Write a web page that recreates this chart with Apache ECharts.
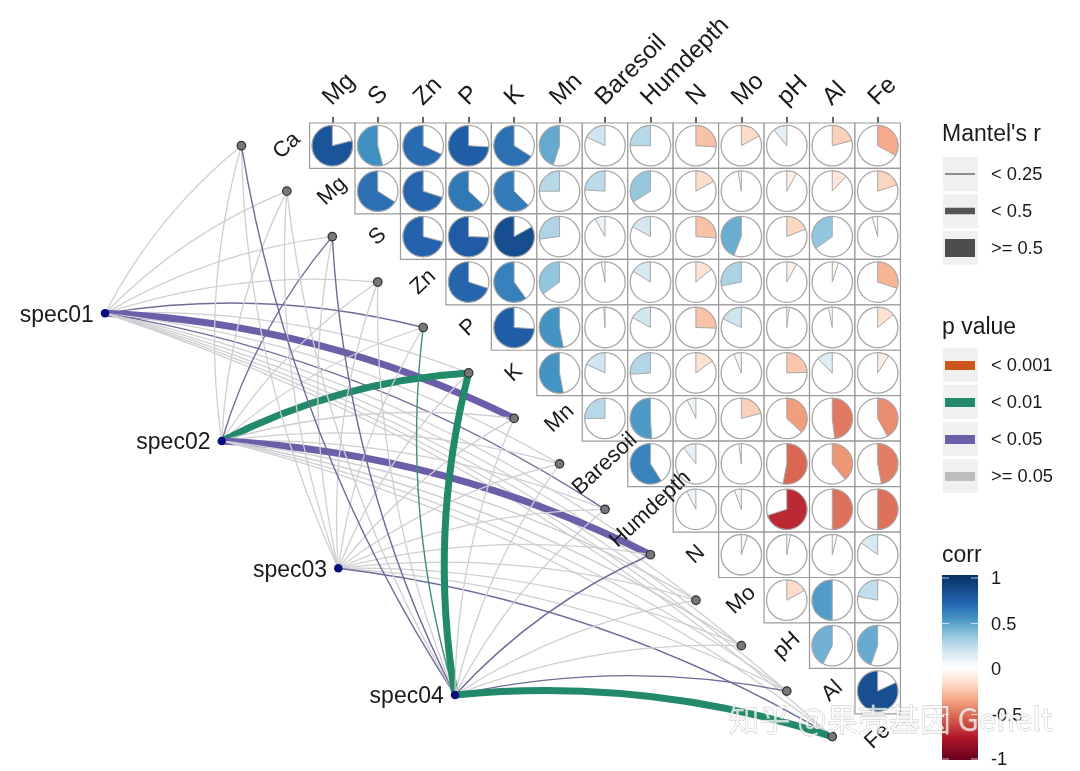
<!DOCTYPE html>
<html>
<head>
<meta charset="utf-8">
<style>html,body{margin:0;padding:0;background:#fff}#chart{width:1080px;height:771px}</style>
<script src="https://cdn.jsdelivr.net/npm/echarts@6/dist/echarts.min.js"></script>
</head>
<body>
<div id="chart"></div>
<script>
// ---------- data ----------
const envCols = ['Mg','S','Zn','P','K','Mn','Baresoil','Humdepth','N','Mo','pH','Al','Fe'];
const envRows = ['Ca','Mg','S','Zn','P','K','Mn','Baresoil','Humdepth','N','Mo','pH','Al'];
// correlation rows: each row starts on the diagonal
const corrCa = [0.79,0.54,0.68,0.74,0.66,0.45,0.18,0.25,-0.26,-0.17,0.11,-0.21,-0.33];
const corrMg = [0.66,0.70,0.63,0.625,0.25,0.24,0.34,-0.17,0.025,-0.08,-0.12,-0.20];
const corrS = [0.71,0.745,0.83,0.27,0.08,0.17,-0.26,0.44,-0.19,0.35,0.045];
const corrZn = [0.70,0.60,0.35,0.03,0.16,-0.14,0.28,-0.08,-0.05,-0.30];
const corrP = [0.74,0.53,0.01,0.17,-0.255,0.18,-0.02,0.03,-0.14];
const corrK = [0.53,0.18,0.26,-0.15,0.06,-0.245,0.125,-0.09];
const corrMn = [0.25,0.51,0.07,-0.21,-0.37,-0.48,-0.42];
const corrBaresoil = [0.59,0.105,0.02,-0.53,-0.39,-0.47];
const corrHumdepth = [0.075,0.055,-0.70,-0.50,-0.50];
const corrN = [-0.05,-0.03,-0.04,0.15];
const corrMo = [-0.17,0.50,0.22];
const corrPH = [0.425,0.445];
const corrAl = [0.82];
const corrRows = [corrCa,corrMg,corrS,corrZn,corrP,corrK,corrMn,corrBaresoil,corrHumdepth,corrN,corrMo,corrPH,corrAl];

const specNames = ['spec01','spec02','spec03','spec04'];
const specCol = [-5.00,-2.433,0.132,2.70];
const specRow = [3.688,6.497,9.298,12.086];
// targets, in order: Ca Mg S Zn P K Mn Baresoil Humdepth N Mo pH Al Fe
const nodeNames = ['Ca','Mg','S','Zn','P','K','Mn','Baresoil','Humdepth','N','Mo','pH','Al','Fe'];
// p class: 0 >=0.05, 1 <0.05, 2 <0.01, 3 <0.001
const pSpec01 = [0,0,0,0,1,0,1,0,1,0,0,0,0,0];
const pSpec02 = [0,0,1,0,0,2,0,0,0,1,0,0,0,0];
const pSpec03 = [0,0,0,0,0,0,0,0,0,0,0,0,0,1];
const pSpec04 = [1,0,1,0,2,2,0,0,0,1,0,0,1,2];
// r class: 0 <0.25, 1 <0.5
const rSpec01 = [0,0,0,0,0,0,1,0,0,0,0,0,0,0];
const rSpec02 = [0,0,0,0,0,1,0,0,0,1,0,0,0,0];
const rSpec03 = [0,0,0,0,0,0,0,0,0,0,0,0,0,0];
const rSpec04 = [0,0,0,0,0,1,0,0,0,0,0,0,0,1];
const pSpec = [pSpec01,pSpec02,pSpec03,pSpec04];
const rSpec = [rSpec01,rSpec02,rSpec03,rSpec04];

const rLegend = ['< 0.25','< 0.5','>= 0.5'];
const pLegend = ['< 0.001','< 0.01','< 0.05','>= 0.05'];
const corrTicks = ['1','0.5','0','-0.5','-1'];

// ---------- scales / style ----------
const corrStops = [-1,-0.75,-0.55,-0.35,-0.18,0,0.18,0.35,0.53,0.72,1];
const corrColors = ['#67001f','#b2182b','#d6604d','#f4a582','#fddbc7','#ffffff','#d1e5f0','#92c5de','#4393c3','#2160ac','#053061'];
function corrColor(v){
  for(let i=0;i<corrStops.length-1;i++){
    if(v<=corrStops[i+1]){
      return echarts.color.lerp((v-corrStops[i])/(corrStops[i+1]-corrStops[i]),[corrColors[i],corrColors[i+1]]);
    }
  }
  return corrColors[corrColors.length-1];
}
const pColor = ['#cfcfd3','#6a5fa8','#22896a','#cc5519'];
const pColorThin = ['#cfcfd3','#6f6c98','#3f9078','#cc5519'];
const FONT = '"Liberation Sans", Arial, sans-serif';
const TXT = '#1a1a1a';
const CELL = 45.45, X0 = 332.3, Y0 = 145.7;

const cells = [];
corrRows.forEach((row,i)=>row.forEach((v,k)=>cells.push([i+k,i,v])));

const links = [];
specNames.forEach((s,si)=>{
  nodeNames.forEach((n,ni)=>{
    const p = pSpec[si][ni], r = rSpec[si][ni];
    links.push({
      coords:[[specCol[si],specRow[si]],[ni-2,ni]],
      lineStyle:{
        color:r? pColor[p]:pColorThin[p],
        width:r?7:(p?1.4:1.3),
        curveness:0.105,opacity:1,cap:'butt'
      }
    });
  });
});

// ---------- legends ----------
const g = [];
function text(x,y,s,size,extra){
  g.push(Object.assign({type:'text',left:x,top:y-size/2+1.5,silent:true,z:20,
    style:{text:s,fontFamily:FONT,fontSize:size,fill:TXT,textVerticalAlign:'top'}},extra||{}));
}
function rect(x,y,w,h,fill,z){
  g.push({type:'rect',silent:true,z:z||19,shape:{x,y,width:w,height:h},style:{fill}});
}
text(942,133,"Mantel's r",23);
[[157,1.8,'#808080'],[194,6.5,'#555555'],[231,18,'#4d4d4d']].forEach((d,i)=>{
  rect(943,d[0],35,34,'#f0f0f0');
  rect(945,d[0]+17-d[1]/2,30,d[1],d[2],20);
  text(991,d[0]+17,rLegend[i],18.3);
});
text(942,326,'p value',23);
[348,385,422,459].forEach((y,i)=>{
  rect(943,y,35,34,'#f0f0f0');
  rect(945,y+13,30,9,pColor[3-i]==='#cfcfd3'?'#bdbdbd':pColor[3-i],20);
  text(991,y+17,pLegend[i],18.3);
});
text(942,554,'corr',23);
g.push({type:'rect',silent:true,z:19,shape:{x:942,y:575,width:36,height:185},
  style:{fill:new echarts.graphic.LinearGradient(0,1,0,0,
    corrStops.map((s,i)=>({offset:(s+1)/2,color:corrColors[i]})))}});
[578,623.5,669,714.5,759].forEach((y,i)=>{
  rect(942,y-0.5,7,1,'rgba(255,255,255,0.7)',20);
  rect(971,y-0.5,7,1,'rgba(255,255,255,0.7)',20);
  text(991,y,corrTicks[i],18.3);
});
// watermark
g.push({type:'text',left:728,top:703,silent:true,z:40,
  style:{text:'知乎 @果壳基因 Genelt',fontFamily:'"Noto Sans CJK SC"',fontSize:31,
    fill:'rgba(255,255,255,0.72)',stroke:'rgba(150,150,150,0.55)',lineWidth:0.8}});

// ---------- chart ----------
const chart = echarts.init(document.getElementById('chart'),null,{renderer:'canvas'});
chart.setOption({
  animation:false,
  backgroundColor:'#ffffff',
  grid:[
    {left:X0-CELL/2,top:Y0-CELL/2,width:CELL*13,height:CELL*13},
    {left:0,top:0,width:1080,height:771}
  ],
  xAxis:[
    {type:'category',gridIndex:0,position:'top',data:envCols,
     axisLine:{show:false},
     axisTick:{show:true,alignWithLabel:true,length:6,lineStyle:{color:'#333',width:1.5}},
     axisLabel:{interval:0,rotate:-45,margin:9,verticalAlign:'bottom',padding:[0,0,0,5],fontSize:24.5,fontFamily:FONT,color:TXT,hideOverlap:false},
     splitLine:{show:false}},
    {type:'value',gridIndex:1,show:false,min:(0-X0)/CELL,max:(1080-X0)/CELL,splitLine:{show:false}}
  ],
  yAxis:[
    {type:'category',gridIndex:0,inverse:true,data:envRows,show:false},
    {type:'value',gridIndex:1,show:false,inverse:true,min:(0-Y0)/CELL,max:(771-Y0)/CELL,splitLine:{show:false}}
  ],
  graphic:g,
  series:[
    {type:'custom',coordinateSystem:'cartesian2d',xAxisIndex:0,yAxisIndex:0,silent:true,z:2,
     data:cells,encode:{x:0,y:1},clip:false,
     renderItem(params,api){
       const v=api.value(2);
       const c=api.coord([api.value(0),api.value(1)]);
       const s=api.size([1,1]);
       const R=s[0]*0.445;
       const start=-Math.PI/2, sweep=Math.abs(v)*2*Math.PI;
       const fill=corrColor(v);
       return {type:'group',children:[
         {type:'rect',shape:{x:c[0]-s[0]/2,y:c[1]-s[1]/2,width:s[0],height:s[1]},
          style:{fill:'#ffffff',stroke:'#9a9a9a',lineWidth:1.2}},
         {type:'circle',shape:{cx:c[0],cy:c[1],r:R},
          style:{fill:'#ffffff',stroke:'#a8a8a8',lineWidth:1.3}},
         {type:'sector',shape:{cx:c[0],cy:c[1],r:R,r0:0,startAngle:start,
            endAngle:v>0?start-sweep:start+sweep,clockwise:v<0},
          style:{fill:fill,stroke:'#a8a8a8',lineWidth:1}}
       ]};
     }},
    {type:'lines',coordinateSystem:'cartesian2d',xAxisIndex:1,yAxisIndex:1,silent:true,z:3,
     lineStyle:{curveness:0.105},data:links},
    {type:'scatter',xAxisIndex:1,yAxisIndex:1,silent:true,z:5,symbolSize:8.5,
     itemStyle:{color:'#777777',borderColor:'#2e2e2e',borderWidth:1.2,opacity:1},
     data:nodeNames.map((n,i)=>[i-2,i])},
    {type:'scatter',xAxisIndex:1,yAxisIndex:1,silent:true,z:5,symbolSize:8.5,
     itemStyle:{color:'#0b0b80',opacity:1},
     label:{show:true,position:'left',distance:7,offset:[0,2],fontSize:23,fontFamily:FONT,color:TXT,
       formatter:p=>p.data[2]},
     data:specNames.map((n,i)=>[specCol[i],specRow[i],n])},
    {type:'scatter',xAxisIndex:1,yAxisIndex:1,silent:true,z:6,symbolSize:1,
     itemStyle:{color:'rgba(0,0,0,0)',opacity:1},
     label:{show:true,position:'inside',rotate:43,align:'center',verticalAlign:'middle',
       fontSize:22,fontFamily:FONT,color:TXT,formatter:p=>p.data[2]},
     data:nodeNames.map((n,i)=>[i-1,i,n])}
  ]
});
</script>
</body>
</html>
